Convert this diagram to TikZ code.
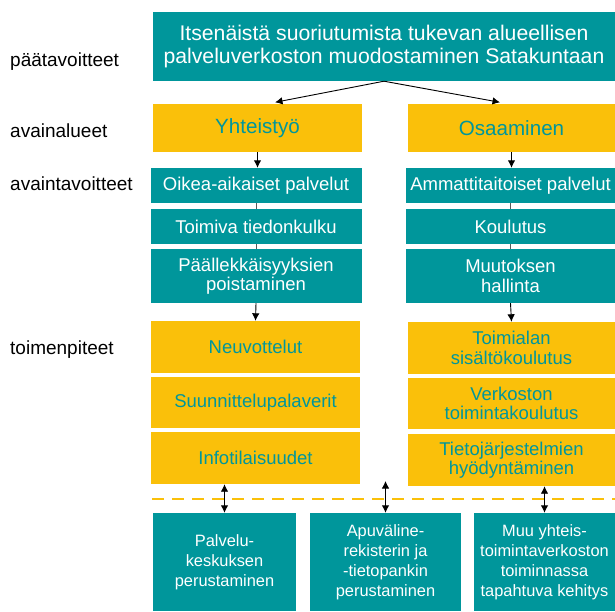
\documentclass[tikz,border=0pt]{standalone}
\usepackage{fontspec}
\setmainfont{Liberation Sans}
\usepackage{tikz}
\usetikzlibrary{arrows.meta}
\definecolor{sateal}{RGB}{0,150,155}
\definecolor{satyellow}{RGB}{250,192,10}

\begin{document}
\begin{tikzpicture}[x=1pt,y=-1pt,
    level/.style={anchor=west,inner sep=0pt,font=\fontsize{19}{21}\selectfont},
    tealbox/.style={fill=sateal,text=white,inner sep=0pt,align=center,
      font=\fontsize{18.5}{19.5}\selectfont},
    yellowbox/.style={fill=satyellow,text=sateal,inner sep=0pt,align=center,
      font=\fontsize{18.5}{19.5}\selectfont},
    footbox/.style={tealbox,font=\fontsize{16.4}{20}\selectfont},
    link/.style={-{Latex[length=7.5pt,width=7.5pt]},line width=0.9pt},
    twoway/.style={{Latex[length=7.5pt,width=7.5pt]}-{Latex[length=7.5pt,width=7.5pt]},line width=0.9pt}]
        \useasboundingbox (0,0) rectangle (615,611);
        % Level names
        \node[level] (lpaa) at (10,62) {päätavoitteet};
        \node[level] (lalue) at (10,131) {avainalueet};
        \node[level] (ltav) at (10,184) {avaintavoitteet};
        \node[level] (ltoim) at (10,350) {toimenpiteet};
        % Main goal
        \node[tealbox,minimum width=462,minimum height=69,
          font=\fontsize{21.2}{23}\selectfont] (top) at (384,46.5)
          {Itsenäistä suoriutumista tukevan alueellisen\\palveluverkoston muodostaminen Satakuntaan};
        % Key areas
        \node[yellowbox,minimum width=209,minimum height=48,
          font=\fontsize{20.6}{22}\selectfont] (yht) at (257.5,128) {Yhteistyö};
        \node[yellowbox,minimum width=207,minimum height=48,
          font=\fontsize{20.6}{22}\selectfont] (osa) at (511.5,128) {Osaaminen};
        % Key goals
        \node[tealbox,minimum width=211,minimum height=35] (oikea) at (256,185.5) {Oikea-aikaiset palvelut};
        \node[tealbox,minimum width=211,minimum height=35] (toimiva) at (256,226.5) {Toimiva tiedonkulku};
        \node[tealbox,minimum width=211,minimum height=54] (paall) at (256,276) {Päällekkäisyyksien\\poistaminen};
        \node[tealbox,minimum width=209,minimum height=35] (ammat) at (510.5,185.5) {Ammattitaitoiset palvelut};
        \node[tealbox,minimum width=209,minimum height=35] (koul) at (510.5,226.5) {Koulutus};
        \node[tealbox,minimum width=209,minimum height=54] (muut) at (510.5,276) {Muutoksen\\hallinta};
        % Actions
        \node[yellowbox,minimum width=209,minimum height=52] (neuv) at (255.5,347) {Neuvottelut};
        \node[yellowbox,minimum width=209,minimum height=51] (suun) at (255.5,402.5) {Suunnittelupalaverit};
        \node[yellowbox,minimum width=209,minimum height=52] (info) at (255.5,458) {Infotilaisuudet};
        \node[yellowbox,minimum width=207,minimum height=52] (toimi) at (511.5,348) {Toimialan\\sisältökoulutus};
        \node[yellowbox,minimum width=207,minimum height=51] (verk) at (511.5,403.5) {Verkoston\\toimintakoulutus};
        \node[yellowbox,minimum width=207,minimum height=52] (tieto) at (511.5,460) {Tietojärjestelmien\\hyödyntäminen};
        % Dashed border
        \coordinate (dashL) at (152,499);
        \coordinate (dashR) at (615,499);
        \draw[satyellow,line width=2pt,dash pattern=on 12pt off 8pt] (dashL) -- (dashR);
        % Results
        \node[footbox,minimum width=143,minimum height=98] (b1) at (224.5,562) {Palvelu-\\keskuksen\\perustaminen};
        \node[footbox,minimum width=151,minimum height=98] (b2) at (385.5,562) {Apuväline-\\rekisterin ja\\-tietopankin\\perustaminen};
        \node[footbox,minimum width=141,minimum height=98] (b3) at (544.5,562) {Muu yhteis-\\toimintaverkoston\\toiminnassa\\tapahtuva kehitys};
        % Arrows
        \draw[link] (top.south) -- ([xshift=17.5pt,yshift=1.5pt]yht.north);
        \draw[link] (top.south) -- ([xshift=-11.5pt,yshift=1.5pt]osa.north);
        \draw[link] (yht.south) -- (yht.south |- oikea.north);
        \draw[link] (osa.south) -- (osa.south |- ammat.north);
        \draw[gray!70!black] (oikea.south) -- (toimiva.north);
        \draw[gray!70!black] (toimiva.south) -- (paall.north);
        \draw[gray!70!black] (ammat.south) -- (koul.north);
        \draw[gray!70!black] (koul.south) -- (muut.north);
        \draw[link] (paall.south) -- (neuv.north);
        \draw[link] (muut.south) -- (toimi.north);
        \coordinate (gap) at (385.5,481);
        \draw[twoway] (info.south -| b1.north) -- (b1.north);
        \draw[twoway] (gap) -- (b2.north);
        \draw[twoway] (tieto.south -| b3.north) -- (b3.north);
      \end{tikzpicture}
\end{document}
